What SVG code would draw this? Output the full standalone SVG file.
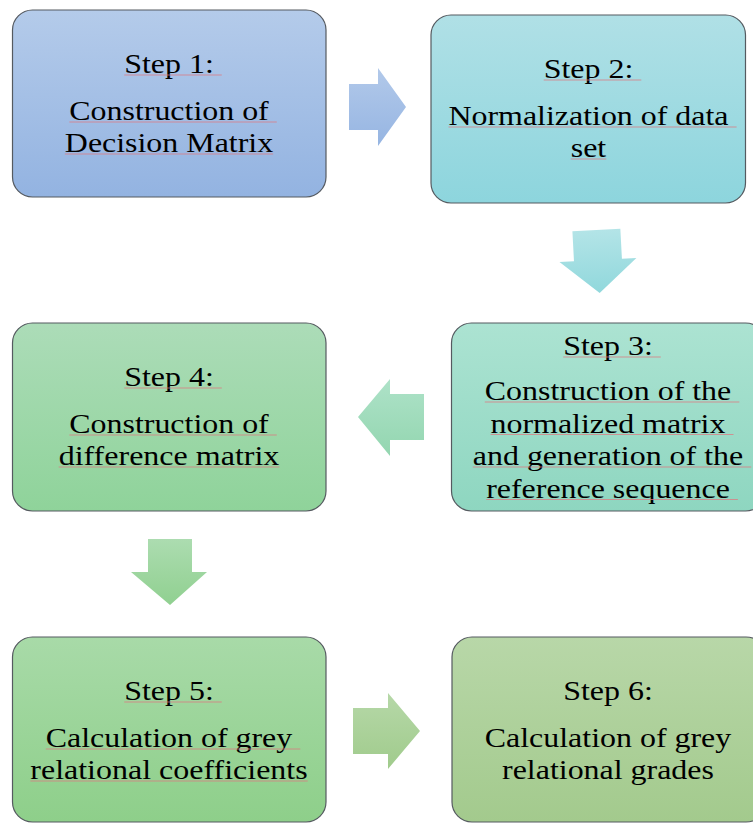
<svg xmlns="http://www.w3.org/2000/svg" width="753" height="823" viewBox="0 0 753 823">
  <defs>
    <linearGradient id="g1" x1="0" y1="0" x2="0" y2="1"><stop offset="0" stop-color="#b4cbea"/><stop offset="1" stop-color="#93b3e1"/></linearGradient>
    <linearGradient id="g2" x1="0" y1="0" x2="0" y2="1"><stop offset="0" stop-color="#b0e0e6"/><stop offset="1" stop-color="#8dd5dd"/></linearGradient>
    <linearGradient id="g3" x1="0" y1="0" x2="0" y2="1"><stop offset="0" stop-color="#ace3d2"/><stop offset="1" stop-color="#8ed6c0"/></linearGradient>
    <linearGradient id="g4" x1="0" y1="0" x2="0" y2="1"><stop offset="0" stop-color="#acdcb8"/><stop offset="1" stop-color="#8fd39a"/></linearGradient>
    <linearGradient id="g5" x1="0" y1="0" x2="0" y2="1"><stop offset="0" stop-color="#a8daa8"/><stop offset="1" stop-color="#8ecf8a"/></linearGradient>
    <linearGradient id="g6" x1="0" y1="0" x2="0" y2="1"><stop offset="0" stop-color="#b8d7a8"/><stop offset="1" stop-color="#a3ca8d"/></linearGradient>
    <linearGradient id="a1" x1="0" y1="0" x2="0" y2="1"><stop offset="0" stop-color="#b2c9ea"/><stop offset="1" stop-color="#96b5e2"/></linearGradient>
    <linearGradient id="a2" x1="0" y1="0" x2="0" y2="1"><stop offset="0" stop-color="#b3e4e7"/><stop offset="1" stop-color="#91d8dc"/></linearGradient>
    <linearGradient id="a3" x1="0" y1="0" x2="0" y2="1"><stop offset="0" stop-color="#aee2c8"/><stop offset="1" stop-color="#93d6b0"/></linearGradient>
    <linearGradient id="a4" x1="0" y1="0" x2="0" y2="1"><stop offset="0" stop-color="#acdcb0"/><stop offset="1" stop-color="#90d090"/></linearGradient>
    <linearGradient id="a5" x1="0" y1="0" x2="0" y2="1"><stop offset="0" stop-color="#b6d8a8"/><stop offset="1" stop-color="#a0cb8c"/></linearGradient>
  </defs>
  <style>
    .box { stroke: #555a60; stroke-width: 1.2; }
    .t { font-family: "Liberation Serif", "Times New Roman", serif; font-size: 28px; fill: #000; text-anchor: middle; }
    .ul { stroke: #de7a80; stroke-width: 1.2; stroke-opacity: 0.75; fill: none; }
  </style>

  <g id="connectors">
    <polygon id="arrow1" fill="url(#a1)" points="349,84 378,84 378,68 406,107 378,146 378,130 349,130"/>
    <polygon id="arrow2" fill="url(#a2)" transform="rotate(-3 598 261)" points="574,230 622,230 622,260 636.5,260 598,293 559.5,260 574,260"/>
    <polygon id="arrow3" fill="url(#a3)" points="424,394 390,394 390,379 358,417 390,456 390,440 424,440"/>
    <polygon id="arrow4" fill="url(#a4)" points="148,539 192,539 192,572 207,572 170,605 131,572 148,572"/>
    <polygon id="arrow5" fill="url(#a5)" points="353,708 388,708 388,693 420,731 388,769 388,754 353,754"/>
  </g>

  <g id="step1">
    <rect class="box" x="12.5" y="10" width="313.5" height="187" rx="20" fill="url(#g1)"/>
    <text class="t" x="169" y="73" textLength="89.6" lengthAdjust="spacingAndGlyphs">Step 1:</text>
    <text class="t" x="169" y="120" textLength="199.5" lengthAdjust="spacingAndGlyphs">Construction of</text>
    <text class="t" x="169" y="152" textLength="208.3" lengthAdjust="spacingAndGlyphs">Decision Matrix</text>
    <path class="ul" d="M124.2 75H221.8M69.3 122H276.8M64.9 154H273.2"/>
  </g>

  <g id="step2">
    <rect class="box" x="431" y="15" width="314.5" height="188" rx="20" fill="url(#g2)"/>
    <text class="t" x="588.5" y="78" textLength="89.6" lengthAdjust="spacingAndGlyphs">Step 2:</text>
    <text class="t" x="588.5" y="125" textLength="280.1" lengthAdjust="spacingAndGlyphs">Normalization of data</text>
    <text class="t" x="588.5" y="157" textLength="35.5" lengthAdjust="spacingAndGlyphs">set</text>
    <path class="ul" d="M543.7 80H641.3M448.5 127H736.6M570.8 159H606.3"/>
  </g>

  <g id="step3">
    <rect class="box" x="451.5" y="323" width="314" height="188" rx="20" fill="url(#g3)"/>
    <text class="t" x="608" y="355" textLength="89.6" lengthAdjust="spacingAndGlyphs">Step 3:</text>
    <text class="t" x="608" y="400" textLength="246.5" lengthAdjust="spacingAndGlyphs">Construction of the</text>
    <text class="t" x="608" y="432.5" textLength="234.9" lengthAdjust="spacingAndGlyphs">normalized matrix</text>
    <text class="t" x="608" y="465" textLength="270.4" lengthAdjust="spacingAndGlyphs">and generation of the</text>
    <text class="t" x="608" y="497.5" textLength="243.7" lengthAdjust="spacingAndGlyphs">reference sequence</text>
    <path class="ul" d="M563.2 357H660.8M484.8 402H739.3M490.6 434.5H733.5M472.8 467H751.2M486.2 499.5H737.9"/>
  </g>

  <g id="step4">
    <rect class="box" x="12.5" y="323" width="313.5" height="188" rx="20" fill="url(#g4)"/>
    <text class="t" x="169" y="386" textLength="89.6" lengthAdjust="spacingAndGlyphs">Step 4:</text>
    <text class="t" x="169" y="433" textLength="199.5" lengthAdjust="spacingAndGlyphs">Construction of</text>
    <text class="t" x="169" y="465" textLength="220.7" lengthAdjust="spacingAndGlyphs">difference matrix</text>
    <path class="ul" d="M124.2 388H221.8M69.3 435H276.8M58.7 467H279.4"/>
  </g>

  <g id="step5">
    <rect class="box" x="12.5" y="637" width="313.5" height="185" rx="20" fill="url(#g5)"/>
    <text class="t" x="169" y="700" textLength="89.6" lengthAdjust="spacingAndGlyphs">Step 5:</text>
    <text class="t" x="169" y="747" textLength="246.5" lengthAdjust="spacingAndGlyphs">Calculation of grey</text>
    <text class="t" x="169" y="779" textLength="277.4" lengthAdjust="spacingAndGlyphs">relational coefficients</text>
    <path class="ul" d="M124.2 702H221.8M45.8 749H300.3M30.3 781H307.7"/>
  </g>

  <g id="step6">
    <rect class="box" x="452" y="637" width="314" height="185" rx="20" fill="url(#g6)"/>
    <text class="t" x="608" y="700" textLength="89.6" lengthAdjust="spacingAndGlyphs">Step 6:</text>
    <text class="t" x="608" y="747" textLength="246.5" lengthAdjust="spacingAndGlyphs">Calculation of grey</text>
    <text class="t" x="608" y="779" textLength="211.9" lengthAdjust="spacingAndGlyphs">relational grades</text>
  </g>
</svg>
